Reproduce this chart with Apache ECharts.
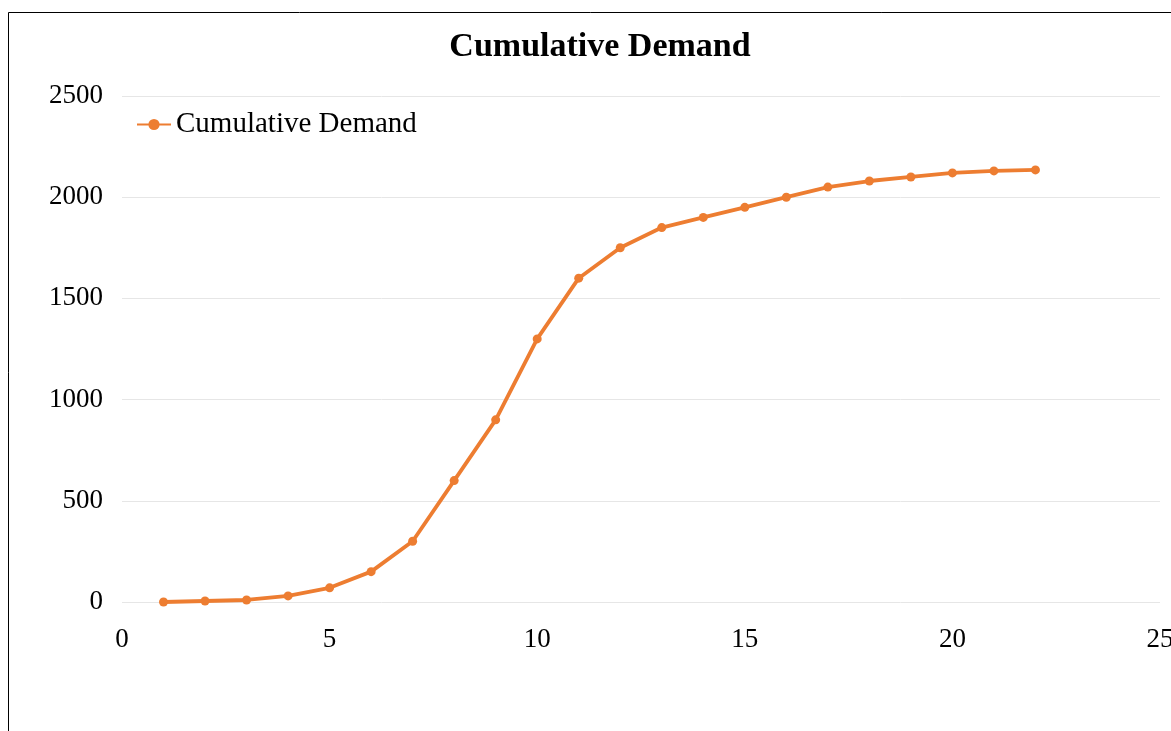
<!DOCTYPE html>
<html>
<head>
<meta charset="utf-8">
<script src="https://cdn.jsdelivr.net/npm/echarts@6/dist/echarts.min.js"></script>
<style>
  html, body { margin: 0; padding: 0; background: #fff; overflow: hidden; }
  #chart { width: 1171px; height: 731px; }
</style>
</head>
<body>
<div id="chart"></div>
<script>
// Period index and cumulative demand per period
const periods = [1, 2, 3, 4, 5, 6, 7, 8, 9, 10, 11, 12, 13, 14, 15, 16, 17, 18, 19, 20, 21, 22];
const cumulativeDemand = [0, 5, 10, 30, 70, 150, 300, 600, 900, 1300, 1600, 1750, 1850, 1900, 1950, 2000, 2050, 2080, 2100, 2120, 2130, 2135];
const seriesName = 'Cumulative Demand';
const chartTitle = 'Cumulative Demand';

const ORANGE = '#ED7D31';
const FONT = '"Liberation Serif", "Times New Roman", serif';

const chart = echarts.init(document.getElementById('chart'));
chart.setOption({
  animation: false,
  backgroundColor: '#fff',
  graphic: [{
    type: 'rect',
    shape: { x: 8.5, y: 12.5, width: 1300, height: 900 },
    style: { fill: 'none', stroke: '#000', lineWidth: 1 },
    silent: true,
    z: -1
  }],
  title: {
    text: chartTitle,
    left: 595,
    textAlign: 'center',
    top: 25,
    textStyle: { fontFamily: FONT, fontWeight: 'bold', fontSize: 34, color: '#000' }
  },
  legend: {
    left: 131,
    top: 105,
    itemWidth: 34,
    itemHeight: 14,
    itemGap: 10,
    textStyle: { fontFamily: FONT, fontSize: 29, color: '#000' },
    data: [seriesName]
  },
  grid: { left: 122, right: 11, top: 96, bottom: 129, containLabel: false, outerBoundsMode: 'none' },
  xAxis: {
    type: 'value',
    min: 0, max: 25, interval: 5,
    axisLine: { show: false },
    axisTick: { show: false },
    splitLine: { show: false },
    axisLabel: { fontFamily: FONT, fontSize: 27, color: '#000', margin: 24 }
  },
  yAxis: {
    type: 'value',
    min: 0, max: 2500, interval: 500,
    axisLine: { show: false },
    axisTick: { show: false },
    splitLine: { lineStyle: { color: '#e6e6e6', width: 1 } },
    axisLabel: { fontFamily: FONT, fontSize: 27, color: '#000', margin: 19, formatter: v => String(v) }
  },
  series: [{
    name: seriesName,
    type: 'line',
    data: periods.map((p, i) => [p, cumulativeDemand[i]]),
    symbol: 'circle',
    symbolSize: 9,
    itemStyle: { color: ORANGE },
    lineStyle: { color: ORANGE, width: 3.8 }
  }]
});
</script>
</body>
</html>
